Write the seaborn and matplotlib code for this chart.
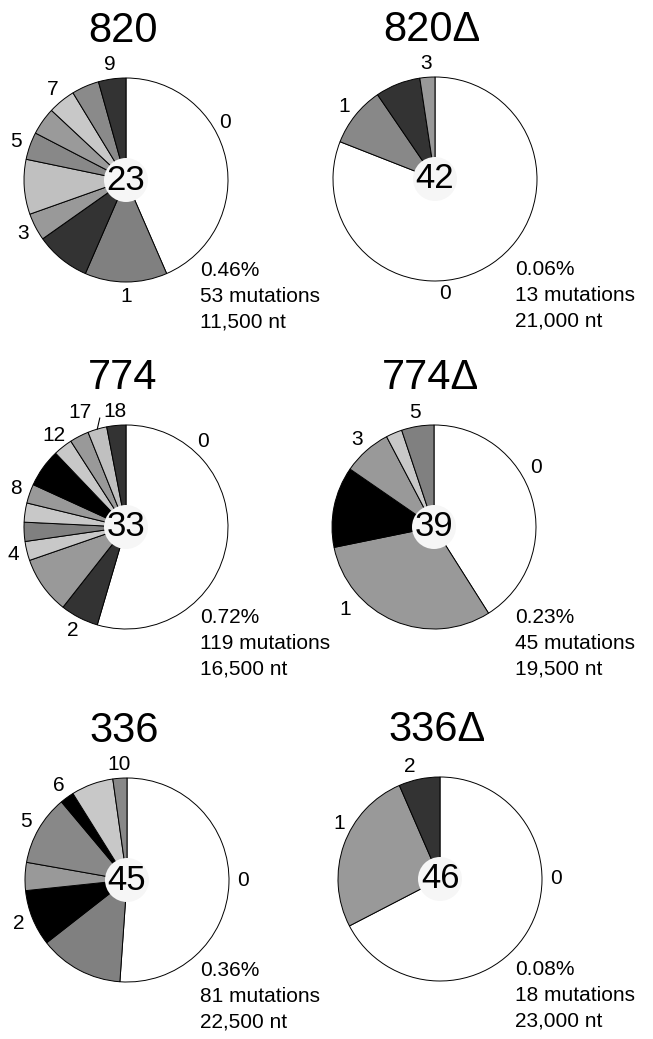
import numpy as np
import seaborn as sns
import matplotlib.pyplot as plt
from matplotlib.patches import Circle

# --- data: clones carrying N mutations per construct ---
names = ["820", "820\u0394", "774", "774\u0394", "336", "336\u0394"]
n_clones = [23, 42, 33, 39, 45, 46]
pct_text = ["0.46%", "0.06%", "0.72%", "0.23%", "0.36%", "0.08%"]
n_mut = [53, 13, 119, 45, 81, 18]
nt_text = ["11,500", "21,000", "16,500", "19,500", "22,500", "23,000"]

cat_820 = [0, 1, 2, 3, 4, 5, 6, 7, 8, 9]
cnt_820 = [10, 3, 2, 1, 2, 1, 1, 1, 1, 1]
cat_820d = [0, 1, 2, 3]
cnt_820d = [34, 4, 3, 1]
cat_774 = [0, 2, 3, 4, 5, 6, 8, 11, 12, 14, 17, 18]
cnt_774 = [18, 2, 3, 1, 1, 1, 1, 2, 1, 1, 1, 1]
cat_774d = [0, 1, 2, 3, 4, 5]
cnt_774d = [16, 12, 5, 3, 1, 2]
cat_336 = [0, 1, 2, 3, 5, 6, 7, 10]
cnt_336 = [23, 6, 4, 2, 5, 1, 3, 1]
cat_336d = [0, 1, 2]
cnt_336d = [31, 12, 3]

# which categories get a label
shown_820 = [0, 1, 3, 5, 7, 9]
shown_820d = [0, 1, 3]
shown_774 = [0, 2, 4, 8, 12, 17, 18]
shown_774d = [0, 1, 3, 5]
shown_336 = [0, 2, 5, 6, 10]
shown_336d = [0, 1, 2]

# grey shades of the slices
col_820 = ["#ffffff", "#808080", "#333333", "#999999", "#c0c0c0", "#888888",
           "#9a9a9a", "#c8c8c8", "#8a8a8a", "#333333"]
col_820d = ["#ffffff", "#888888", "#333333", "#999999"]
col_774 = ["#ffffff", "#333333", "#999999", "#c8c8c8", "#808080", "#c8c8c8",
           "#999999", "#000000", "#c8c8c8", "#999999", "#c0c0c0", "#333333"]
col_774d = ["#ffffff", "#999999", "#000000", "#999999", "#c8c8c8", "#808080"]
col_336 = ["#ffffff", "#808080", "#000000", "#999999", "#888888", "#000000",
           "#c8c8c8", "#888888"]
col_336d = ["#ffffff", "#999999", "#333333"]

cats = [cat_820, cat_820d, cat_774, cat_774d, cat_336, cat_336d]
cnts = [cnt_820, cnt_820d, cnt_774, cnt_774d, cnt_336, cnt_336d]
shown = [shown_820, shown_820d, shown_774, shown_774d, shown_336, shown_336d]
cols = [col_820, col_820d, col_774, col_774d, col_336, col_336d]

# layout (pixels from top-left)
W, H = 653, 1039
centers = [(126, 180), (435, 179), (126, 527), (434, 527), (127, 880), (440, 879)]
R = 102
# label angle overrides (clockwise from 12 o'clock), per pie {category: (angle, dist)}
label_pos = [
    {0: (60, 1.12)},
    {0: (175, 1.13)},
    {0: (42, 1.13), 17: (338, 1.21)},
    {0: (60, 1.16), 1: (227, 1.19)},
    {0: (90, 1.14)},
    {0: (90, 1.14), 1: (299, 1.13), 2: (345, 1.14)},
]
text_x_off = [74, 80, 74, 81, 73, 75]

sns.set_style("white")
plt.rcParams["font.family"] = ["Liberation Sans", "DejaVu Sans"]
plt.rcParams["text.color"] = "black"

fig = plt.figure(figsize=(W / 100, H / 100), dpi=100)
ax = fig.add_axes([0, 0, 1, 1])

for i in range(len(names)):
    cx, cy_top = centers[i]
    cy = H - cy_top
    wedges, _ = ax.pie(cnts[i], colors=cols[i], startangle=90, counterclock=False,
                       center=(cx, cy), radius=R,
                       wedgeprops=dict(edgecolor="black", linewidth=0.7))
    for cat, w in zip(cats[i], wedges):
        if cat not in shown[i]:
            continue
        if cat in label_pos[i]:
            clock, dist = label_pos[i][cat]
            ang = np.deg2rad(90 - clock)
        else:
            dist = 1.14
            ang = np.deg2rad((w.theta1 + w.theta2) / 2)
        ax.text(cx + dist * R * np.cos(ang), cy + dist * R * np.sin(ang), str(cat),
                ha="center", va="center", fontsize=15)
        if names[i] == "774" and cat == 17:
            mid = np.deg2rad((w.theta1 + w.theta2) / 2)
            ax.plot([cx + R * np.cos(mid), cx + 1.1 * R * np.cos(mid - 0.05)],
                    [cy + R * np.sin(mid), cy + 1.1 * R * np.sin(mid - 0.05)],
                    color="black", lw=0.8)
    ax.add_patch(Circle((cx, cy), 22, facecolor="#f6f6f6", edgecolor="none", zorder=5))
    ax.text(cx, cy, str(n_clones[i]), ha="center", va="center", fontsize=25, zorder=6)
    ax.text(cx - 3, cy + 149, names[i], ha="center", va="center", fontsize=30)
    ax.text(cx + text_x_off[i], cy - 81,
            f"{pct_text[i]}\n{n_mut[i]} mutations\n{nt_text[i]} nt",
            ha="left", va="top", fontsize=15, linespacing=1.45)

ax.set_xlim(0, W)
ax.set_ylim(0, H)
ax.set_aspect("auto")
ax.axis("off")
fig.savefig("out.png", dpi=100, facecolor="white")
